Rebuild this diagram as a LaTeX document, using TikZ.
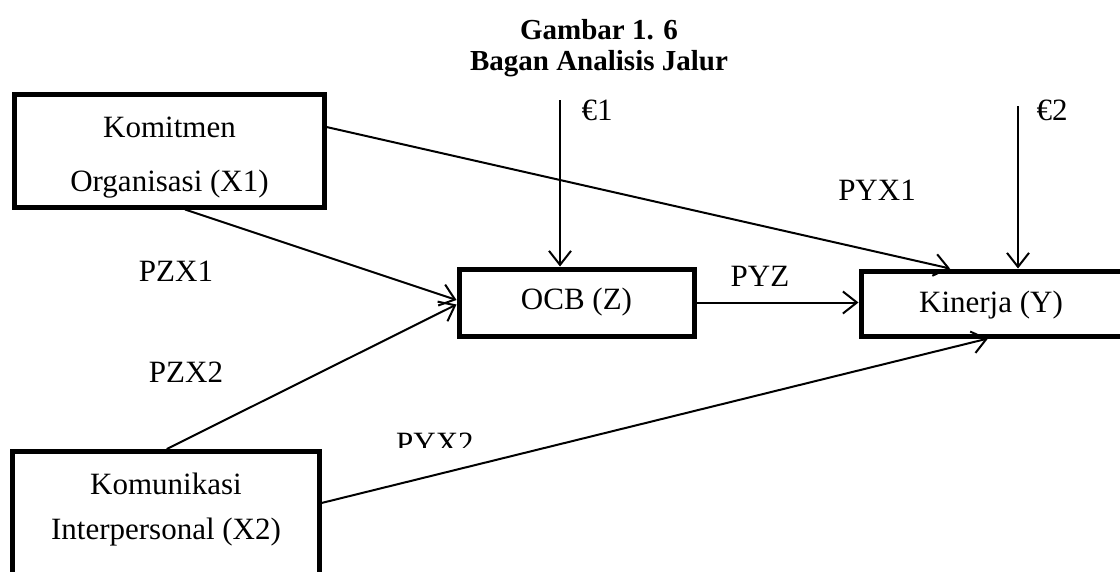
\documentclass[tikz,border=0pt]{standalone}
\usepackage{fontspec}
\setmainfont{Liberation Serif}
\usetikzlibrary{arrows.meta}
\begin{document}
\begin{tikzpicture}[x=1pt,y=-1pt,
  box/.style={draw, line width=5pt, rectangle, inner sep=0pt},
  txt/.style={font=\fontsize{31}{37}\selectfont, inner sep=0pt},
  conn/.style={line width=2pt, -{Straight Barb[length=14pt,width=22pt]}},
  plainline/.style={line width=2pt}]
\useasboundingbox (0,0) rectangle (1120,571);
\clip (0,0) rectangle (1120,571);

% title
\node[inner sep=0pt, align=center, font=\fontsize{29}{26}\selectfont\bfseries] (title) at (599,48) {Gambar 1. 6\\[5pt]Bagan Analisis Jalur};

% boxes
\node[box, minimum width=310pt, minimum height=113pt] (x1) at (169,150.5) {};
\node[txt, align=center, font=\fontsize{31}{54}\selectfont] (x1t) at (169.5,157.5) {Komitmen\\Organisasi (X1)};

\node[box, minimum width=235pt, minimum height=67pt, font=\fontsize{31}{37}\selectfont] (z) at (576.5,302.5) {OCB (Z)};

\node[box, minimum width=300pt, minimum height=65pt] (y) at (1011,303.5) {};
\node[txt] (yt) at (991,305) {Kinerja (Y)};

\node[box, minimum width=306.5pt, minimum height=150pt] (x2) at (165.75,526.5) {};
\node[txt, align=center, font=\fontsize{31}{45}\selectfont] (x2t) at (166,510) {Komunikasi\\Interpersonal (X2)};

% error terms
\coordinate (e1top) at (560,100);
\coordinate (e2top) at (1018,106);
\node[txt] (e1) at (597,110) {€1};
\node[txt] (e2) at (1052,110) {€2};
\draw[conn] (e1top) -- (e1top |- z.north);
\draw[conn] (e2top) -- (e2top |- y.north);

% paths
\draw[conn] ([yshift=23.5pt]x1.east) -- ([xshift=-61pt]y.north);
\draw[conn] ([xshift=16pt]x1.south) -- ([yshift=2.5pt]z.west);
\draw[conn] ([xshift=1pt]x2.north) -- ([yshift=-2pt]z.west);
\draw[conn] (z.east) -- (z.east -| y.west);
\draw[conn] ([yshift=23.5pt]x2.east) -- ([xshift=-23pt]y.south);

% labels
\node[txt] (pzx1) at (176,271) {PZX1};
\node[txt] (pzx2) at (186,372) {PZX2};
\node[txt] (pyz) at (760,276) {PYZ};
\node[txt] (pyx1) at (877,190) {PYX1};
\begin{scope}
  \clip (380,420) rectangle (490,447);
  \node[txt] (pyx2) at (435,443.5) {PYX2};
\end{scope}
\end{tikzpicture}
\end{document}
